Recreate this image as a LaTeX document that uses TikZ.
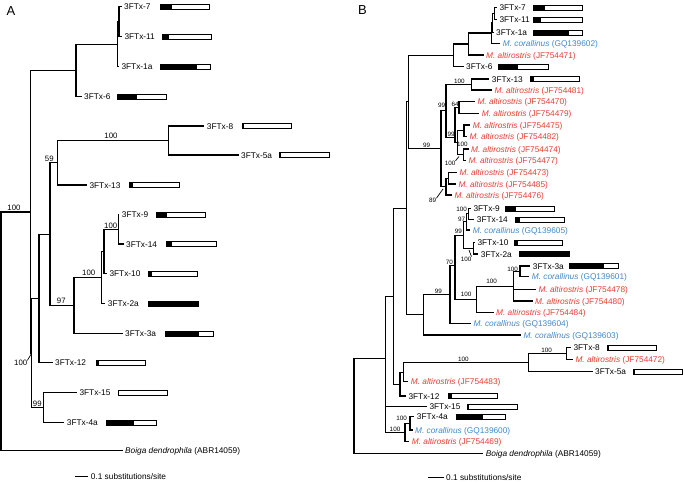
\documentclass[tikz,border=0pt]{standalone}
\usepackage{fontspec}
\setmainfont{Liberation Sans}
\definecolor{altred}{RGB}{228,62,50}
\definecolor{corblue}{RGB}{66,136,200}
\newcommand{\maltr}[1]{\textit{M. altirostris} (#1)}
\newcommand{\mcor}[1]{\textit{M. corallinus} (#1)}
\newcommand{\seqbar}[4]{%
  \fill (#2,#1-2.5) rectangle (#3,#1+2.5);
  \draw[line width=0.55pt] (#2,#1-2.5) rectangle (#4,#1+2.5);}

\begin{document}
\begin{tikzpicture}[x=1pt, y=-1pt,
  treeline/.style={line width=1.05pt},
  tip/.style={anchor=west, inner xsep=2.5pt, inner ysep=0pt, text height=6pt, text depth=0pt, font=\fontsize{8.3}{10}\selectfont},
  alttip/.style={tip, text=altred},
  cortip/.style={tip, text=corblue},
  bootA/.style={inner sep=0pt, font=\fontsize{7.8}{9}\selectfont},
  bootB/.style={inner sep=0pt, font=\fontsize{6.3}{8}\selectfont},
  panel/.style={inner sep=0pt, font=\fontsize{13}{15}\selectfont}
]
  \useasboundingbox (0,0) rectangle (685,482);
  \node[panel] (pA) at (11,11.5) {A};
  \node[panel] (pB) at (362.5,10.5) {B};

  % panel A
  \node[tip] (a7) at (121.5,6.7) {3FTx-7};
  \node[tip] (a11) at (121.8,36.7) {3FTx-11};
  \node[tip] (a1a) at (118.8,66.7) {3FTx-1a};
  \node[tip] (a6) at (81.5,96.7) {3FTx-6};
  \node[tip] (a8) at (204.2,126) {3FTx-8};
  \node[tip] (a5a) at (238.5,155) {3FTx-5a};
  \node[tip] (a13) at (86.8,185) {3FTx-13};
  \node[tip] (a9) at (119.2,214.3) {3FTx-9};
  \node[tip] (a14) at (123.5,244) {3FTx-14};
  \node[tip] (a10) at (106.8,273.3) {3FTx-10};
  \node[tip] (a2a) at (105.2,303.3) {3FTx-2a};
  \node[tip] (a3a) at (122.5,333.3) {3FTx-3a};
  \node[tip] (a12) at (52.5,362.7) {3FTx-12};
  \node[tip] (a15) at (76.8,392.7) {3FTx-15};
  \node[tip] (a4a) at (64.2,422.3) {3FTx-4a};
  \node[tip] (aboiga) at (122.5,450.7) {\textit{Boiga dendrophila} (ABR14059)};

  \coordinate (aroot) at (1,331.2);
  \coordinate (aZ) at (30.7,212);
  \coordinate (aT) at (76,70.5);
  \coordinate (aN3) at (117.3,44.2);
  \coordinate (aN2) at (119,21.7);
  \coordinate (aY) at (31.7,353.2);
  \coordinate (aX) at (39,298.8);
  \coordinate (a59) at (50,234.6);
  \coordinate (a13n) at (57.3,162.9);
  \coordinate (a85) at (168.3,140.5);
  \coordinate (a97) at (74,305.8);
  \coordinate (a100) at (101.7,277.9);
  \coordinate (aV) at (104,251.3);
  \coordinate (a914) at (118.3,229.2);
  \coordinate (aF) at (43.3,407.5);

  \foreach \p/\c in {aroot/aZ, aroot/aboiga, aZ/aT, aZ/aY, aT/aN3, aT/a6, aN3/aN2, aN3/a1a,
      aN2/a7, aN2/a11, aY/aX, aY/aF, aX/a59, aX/a12, a59/a13n, a59/a97, a13n/a85, a13n/a13,
      a85/a8, a85/a5a, a97/a100, a97/a3a, a100/aV, a100/a2a, aV/a914, aV/a10,
      a914/a9, a914/a14, aF/a15, aF/a4a}
    \draw[treeline] (\p) |- (\c);

  \node[bootA] (sA1) at (14,208.3) {100};
  \node[bootA] (sA2) at (111,135.7) {100};
  \node[bootA] (sA3) at (49.3,159) {59};
  \node[bootA] (sA4) at (110.7,225.7) {100};
  \node[bootA] (sA5) at (88.7,273.3) {100};
  \node[bootA] (sA6) at (61.3,301) {97};
  \node[bootA] (sA7) at (20.7,363.3) {100};
  \node[bootA] (sA8) at (37.3,404.3) {99};
  \draw[line width=0.7pt] (sA7.north east) -- (aY);

  \seqbar{6.7}{160}{172}{209}
  \seqbar{36.7}{162}{169}{211}
  \seqbar{66.7}{160.7}{196.7}{210}
  \seqbar{96.7}{117.3}{136.7}{166.7}
  \seqbar{126}{242.3}{243.5}{291.7}
  \seqbar{155}{279.3}{280.5}{329.3}
  \seqbar{185}{129.3}{133.3}{179.3}
  \seqbar{214.3}{156.7}{166.7}{205.3}
  \seqbar{244}{166.7}{171.7}{216}
  \seqbar{273.3}{148.3}{151.7}{197.3}
  \seqbar{303.3}{148.3}{198.3}{198.3}
  \seqbar{333.3}{165}{199.3}{213.3}
  \seqbar{362.7}{96}{99.3}{145.3}
  \seqbar{392.7}{118}{119.3}{167.3}
  \seqbar{422.3}{106.7}{134}{156}

  \coordinate (sbA) at (75,476.7);
  \node[tip] (sbAt) at (88.2,476.7) {0.1 substitutions/site};
  \draw[treeline] (sbA) -- (sbAt);

  % panel B
  \node[tip] (b7) at (496.8,7.3) {3FTx-7};
  \node[tip] (b11) at (496.8,19.3) {3FTx-11};
  \node[tip] (b1a) at (493.5,32.3) {3FTx-1a};
  \node[cortip] (b602) at (500.2,43.3) {\mcor{GQ139602}};
  \node[alttip] (b471) at (483.5,55) {\maltr{JF754471}};
  \node[tip] (b6) at (463.5,66.7) {3FTx-6};
  \node[tip] (b13) at (489.2,79) {3FTx-13};
  \node[alttip] (b481) at (491.8,90) {\maltr{JF754481}};
  \node[alttip] (b470) at (474.8,101.7) {\maltr{JF754470}};
  \node[alttip] (b479) at (479.2,113.3) {\maltr{JF754479}};
  \node[alttip] (b475) at (470.2,125) {\maltr{JF754475}};
  \node[alttip] (b482) at (466.8,136.7) {\maltr{JF754482}};
  \node[alttip] (b474) at (468.5,149) {\maltr{JF754474}};
  \node[alttip] (b477) at (465.8,160.7) {\maltr{JF754477}};
  \node[alttip] (b473) at (456.8,172.7) {\maltr{JF754473}};
  \node[alttip] (b485) at (455.8,184) {\maltr{JF754485}};
  \node[alttip] (b476) at (451.8,195) {\maltr{JF754476}};
  \node[tip] (b9) at (470.8,208.3) {3FTx-9};
  \node[tip] (b14) at (474.2,219.3) {3FTx-14};
  \node[cortip] (b605) at (470.2,230) {\mcor{GQ139605}};
  \node[tip] (b10) at (474.8,242.7) {3FTx-10};
  \node[tip] (b2a) at (478.2,254) {3FTx-2a};
  \node[tip] (b3a) at (530.2,266) {3FTx-3a};
  \node[cortip] (b601) at (529.2,276.7) {\mcor{GQ139601}};
  \node[alttip] (b478) at (535.8,289.3) {\maltr{JF754478}};
  \node[alttip] (b480) at (532.5,301) {\maltr{JF754480}};
  \node[alttip] (b484) at (493.5,312.7) {\maltr{JF754484}};
  \node[cortip] (b604) at (470.8,323.3) {\mcor{GQ139604}};
  \node[cortip] (b603) at (520.8,335) {\mcor{GQ139603}};
  \node[tip] (b8) at (570.8,347.3) {3FTx-8};
  \node[alttip] (b472) at (572.8,359.3) {\maltr{JF754472}};
  \node[tip] (b5a) at (592.5,371.7) {3FTx-5a};
  \node[alttip] (b483) at (408.2,381.7) {\maltr{JF754483}};
  \node[tip] (b12) at (405.8,396) {3FTx-12};
  \node[tip] (b15) at (426.8,406.7) {3FTx-15};
  \node[tip] (b4a) at (414.2,416.7) {3FTx-4a};
  \node[cortip] (b600) at (412.5,430) {\mcor{GQ139600}};
  \node[alttip] (b469) at (409.2,441.7) {\maltr{JF754469}};
  \node[tip] (bboiga) at (483.2,453.3) {\textit{Boiga dendrophila} (ABR14059)};

  \coordinate (broot) at (354,405.8);
  \coordinate (bM) at (385.7,358.3);
  \coordinate (bL) at (393.3,296.9);
  \coordinate (bR) at (406.7,208.3);
  \coordinate (bTop) at (408.3,101.9);
  \coordinate (b6n) at (453.3,55.3);
  \coordinate (b471n) at (468.3,44);
  \coordinate (b602n) at (491.7,33);
  \coordinate (b1an) at (492.7,22.8);
  \coordinate (b711) at (494.5,13.3);
  \coordinate (b99c) at (441,148.4);
  \coordinate (b99b) at (446,110.9);
  \coordinate (b13n) at (471.7,84.5);
  \coordinate (bQ) at (455,137.3);
  \coordinate (b64) at (459,107.5);
  \coordinate (bP) at (457.5,142.8);
  \coordinate (bA) at (464,130.8);
  \coordinate (bB) at (463.3,154.8);
  \coordinate (b89) at (446,186.7);
  \coordinate (b473n) at (448.3,178.3);
  \coordinate (bV) at (423.3,314.7);
  \coordinate (bU) at (450,294.3);
  \coordinate (bS) at (455,265.3);
  \coordinate (bT) at (463.3,235.1);
  \coordinate (b97) at (466.7,221.9);
  \coordinate (b914) at (468.3,213.8);
  \coordinate (b102a) at (473.3,248.3);
  \coordinate (b484n) at (476.7,299.5);
  \coordinate (b3an) at (513.3,286.2);
  \coordinate (b601n) at (520,271.3);
  \coordinate (bK) at (400,384.1);
  \coordinate (b483n) at (403.3,372.1);
  \coordinate (b5an) at (528.3,362.5);
  \coordinate (b8n) at (566.7,353.3);
  \coordinate (b4) at (405,432.5);
  \coordinate (b4an) at (410,423.3);

  \foreach \p/\c in {broot/bM, broot/bboiga, bM/bL, bM/b15, bM/b4, bL/bR, bL/bK,
      bR/bTop, bR/bV, bTop/b6n, bTop/b99c, b6n/b471n, b6n/b6, b471n/b602n, b471n/b471,
      b602n/b1an, b602n/b602, b1an/b711, b1an/b1a, b711/b7, b711/b11,
      b99c/b99b, b99c/b89, b99b/b13n, b99b/bQ, b13n/b13, b13n/b481, bQ/b64, bQ/bP,
      b64/b470, b64/b479, bP/bA, bP/bB, bA/b475, bA/b482, bB/b474, bB/b477,
      b89/b473n, b89/b476, b473n/b473, b473n/b485, bV/bU, bV/b603, bU/bS, bU/b604,
      bS/bT, bS/b484n, bT/b97, bT/b102a, b97/b914, b97/b605, b914/b9, b914/b14,
      b102a/b10, b102a/b2a, b484n/b3an, b484n/b484, b3an/b601n, b3an/b478, b3an/b480,
      b601n/b3a, b601n/b601, bK/b483n, bK/b12, b483n/b5an, b483n/b483,
      b5an/b8n, b5an/b5a, b8n/b8, b8n/b472, b4/b4an, b4/b469, b4an/b4a, b4an/b600}
    \draw[treeline] (\p) |- (\c);

  \node[bootB] (sB1) at (459.3,81.7) {100};
  \node[bootB] (sB2) at (441.5,105.5) {99};
  \node[bootB] (sB3) at (455,104.5) {64};
  \node[bootB] (sB4) at (451,134.3) {99};
  \node[bootB] (sB5) at (462.3,144) {100};
  \node[bootB] (sB6) at (450,163.3) {100};
  \node[bootB] (sB7) at (426.7,145.7) {99};
  \node[bootB] (sB8) at (432.7,200.7) {89};
  \node[bootB] (sB9) at (461.7,209.3) {100};
  \node[bootB] (sB10) at (461.7,219.3) {97};
  \node[bootB] (sB11) at (458.3,231) {99};
  \node[bootB] (sB12) at (466,259) {100};
  \node[bootB] (sB13) at (449.3,262.7) {70};
  \node[bootB] (sB14) at (512.7,269) {100};
  \node[bootB] (sB15) at (491.7,281) {100};
  \node[bootB] (sB16) at (438.3,291.7) {99};
  \node[bootB] (sB17) at (466,294.3) {100};
  \node[bootB] (sB18) at (463.3,359.3) {100};
  \node[bootB] (sB19) at (546.7,350) {100};
  \node[bootB] (sB20) at (401.7,418.3) {100};
  \node[bootB] (sB21) at (395,429.3) {100};
  \coordinate (tkB6) at (459,156.5);
  \coordinate (tkB8) at (443,189);
  \coordinate (tkB12) at (469,250);
  \draw[line width=0.7pt] (sB6.north east) -- (tkB6);
  \draw[line width=0.7pt] (sB8.north east) -- (tkB8);
  \draw[line width=0.7pt] (sB12.north east) -- (tkB12);

  \seqbar{7.3}{533.3}{545}{582.7}
  \seqbar{19.3}{533.3}{541}{582.7}
  \seqbar{32.3}{533.3}{569.3}{582.7}
  \seqbar{66.7}{498.3}{517.7}{548.3}
  \seqbar{79}{530}{534}{579.3}
  \seqbar{208.3}{505}{515.7}{554}
  \seqbar{219.3}{515}{520}{564}
  \seqbar{242.7}{514}{518.3}{562.7}
  \seqbar{254}{519}{569}{569}
  \seqbar{266}{569.3}{604}{618.3}
  \seqbar{347.3}{607.3}{608.5}{656}
  \seqbar{371.7}{633.3}{634.5}{682.7}
  \seqbar{396}{448.3}{452.3}{497.3}
  \seqbar{406.7}{467.7}{469.3}{517.3}
  \seqbar{416.7}{456}{483.3}{505.7}

  \coordinate (sbB) at (428.3,477.3);
  \node[tip] (sbBt) at (443.5,477.3) {0.1 substitutions/site};
  \draw[treeline] (sbB) -- (sbBt);
\end{tikzpicture}
\end{document}
